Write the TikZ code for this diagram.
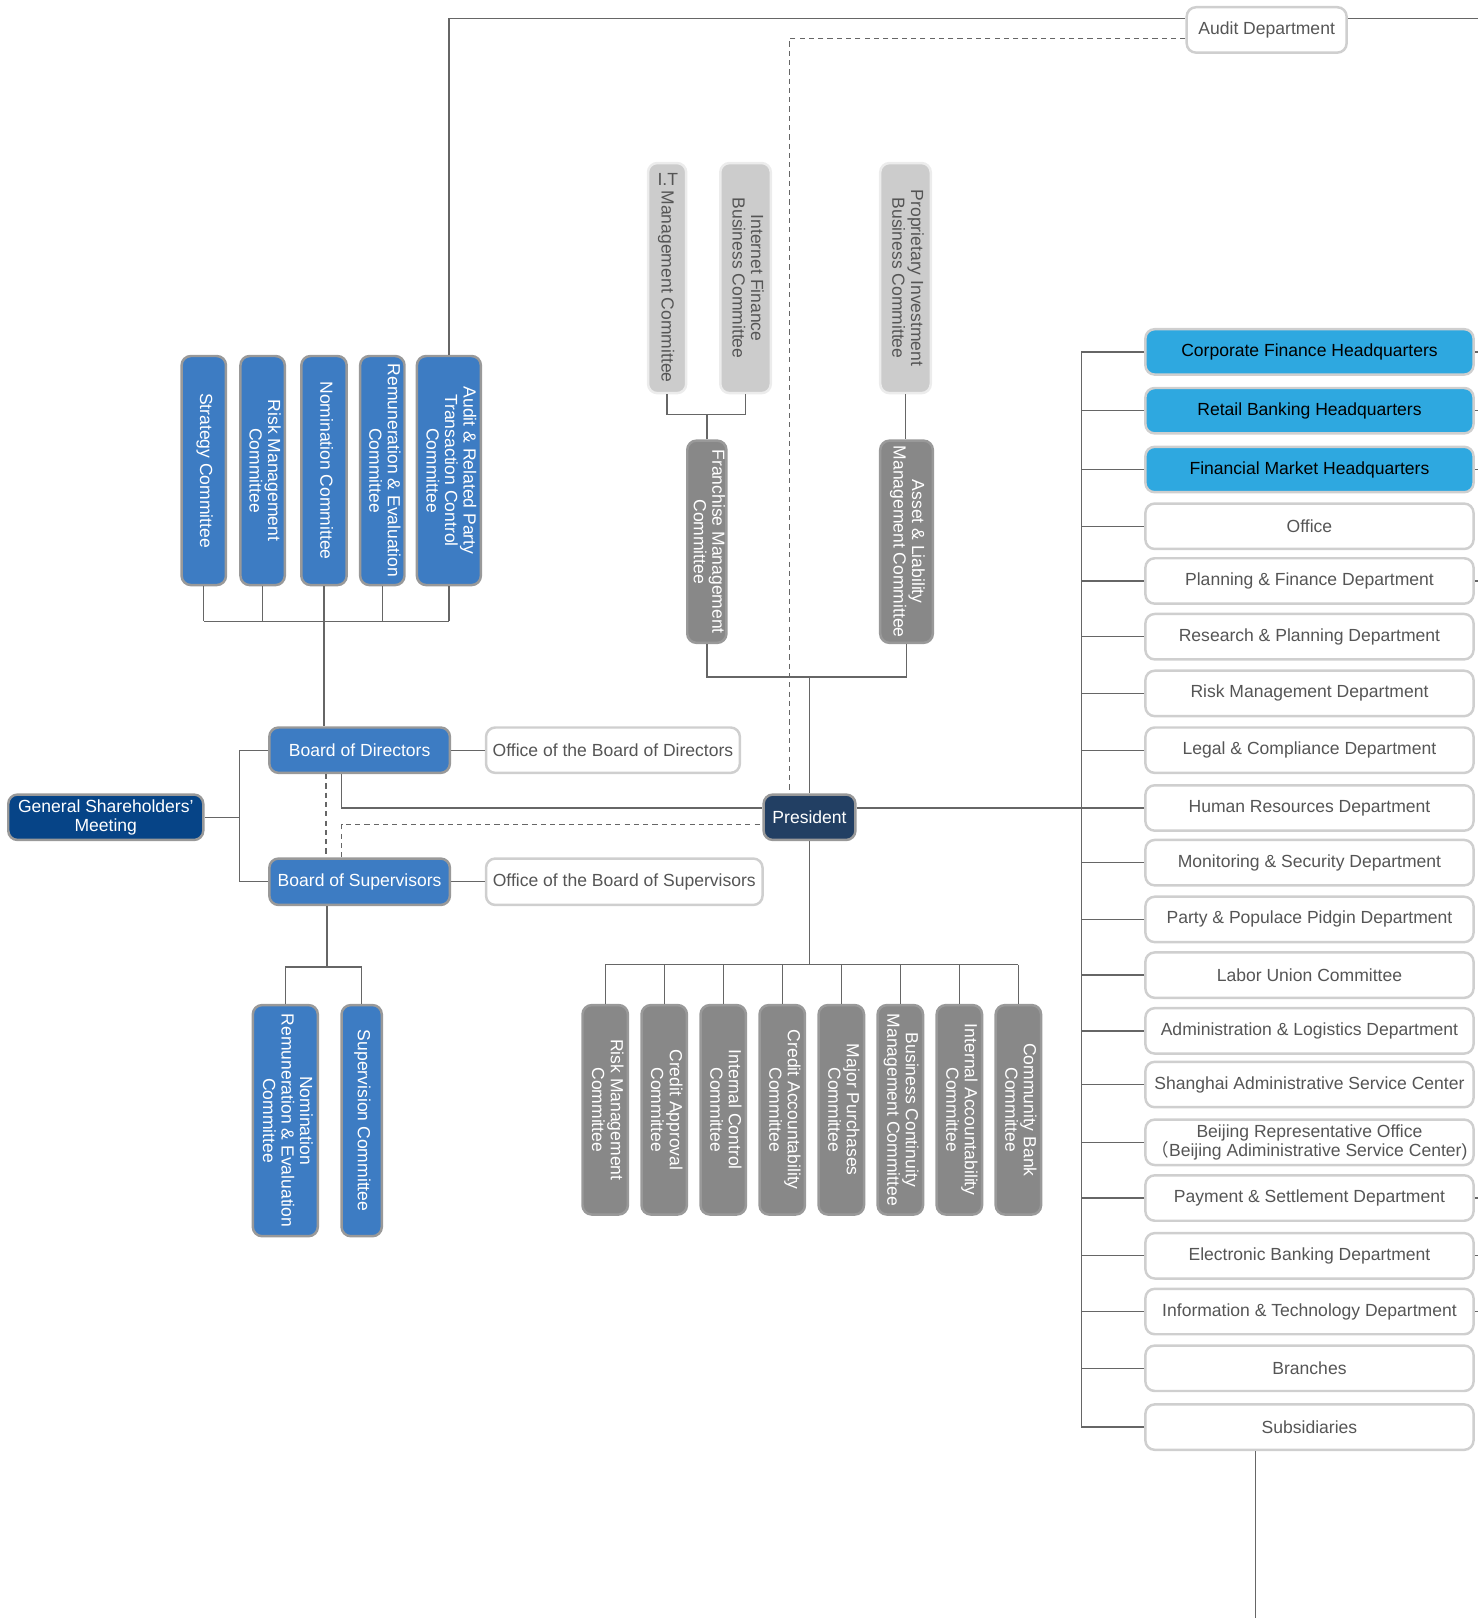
\documentclass[tikz,border=0pt]{standalone}
\usepackage{fontspec}
\setmainfont{Liberation Sans}
\newfontfamily\cjk{Noto Sans CJK SC}
\usetikzlibrary{calc}
\usetikzlibrary{positioning}

\definecolor{boardblue}{HTML}{3D7CC3}
\definecolor{gsmblue}{HTML}{064487}
\definecolor{presblue}{HTML}{223F63}
\definecolor{hqblue}{HTML}{2EA8E0}
\definecolor{palegray}{HTML}{CCCCCC}
\definecolor{cmtgray}{HTML}{888888}
\definecolor{linegray}{HTML}{666666}
\definecolor{textgray}{HTML}{555555}
\definecolor{edgegray}{HTML}{999999}
\definecolor{paleedge}{HTML}{CFCFCF}

\newcommand{\vtext}[1]{\rotatebox{-90}{\begin{tabular}{@{}c@{}}#1\end{tabular}}}

\tikzset{
  orgbox/.style={rounded corners=9pt, line width=2.4pt, inner sep=0pt, align=center,
    font=\fontsize{17}{18}\selectfont},
  boardbox/.style={orgbox, fill=boardblue, draw=edgegray, text=white},
  gsmbox/.style={orgbox, fill=gsmblue, draw=edgegray, text=white},
  presbox/.style={orgbox, fill=presblue, draw=edgegray, text=white},
  hqbox/.style={orgbox, fill=hqblue, draw=paleedge, text=black},
  whitebox/.style={orgbox, fill=white, draw=paleedge, text=textgray},
  vboard/.style={boardbox, minimum height=222},
  vsup/.style={boardbox, minimum height=224},
  vpale/.style={orgbox, fill=palegray, draw=paleedge!40, text=textgray, minimum height=223},
  vdark/.style={orgbox, fill=cmtgray, draw=edgegray, text=white},
  conn/.style={draw=linegray, line width=1.3pt},
  dashline/.style={conn, dash pattern=on 5pt off 4pt},
}

\begin{document}
\begin{tikzpicture}[x=1pt,y=-1pt]
  \useasboundingbox (0,0) rectangle (1432,1568);

  % shareholders, boards, president
  \node[gsmbox, minimum width=189, minimum height=44] (gsm) at (102.5,792) {General Shareholders’\\Meeting};
  \node[boardbox, minimum width=175, minimum height=44] (bod) at (348.5,727) {Board of Directors};
  \node[boardbox, minimum width=175, minimum height=45] (bos) at (348.5,854.5) {Board of Supervisors};
  \node[whitebox, minimum width=246, minimum height=44] (obod) at (594,727) {Office of the Board of Directors};
  \node[whitebox, minimum width=268, minimum height=45] (obos) at (605,854.5) {Office of the Board of Supervisors};
  \node[presbox, minimum width=89, minimum height=44] (pres) at (784.5,792) {President};
  \node[whitebox, minimum width=155, minimum height=44] (audit) at (1227.5,29) {Audit Department};

  % board committees
  \node[vboard, minimum width=43] (strat) at (197.5,456) {\vtext{Strategy Committee}};
  \node[vboard, minimum width=43] (riskc) at (254.5,456) {\vtext{Risk Management\\Committee}};
  \node[vboard, minimum width=44] (nomc) at (314,456) {\vtext{Nomination Committee}};
  \node[vboard, minimum width=43] (remc) at (370.5,456) {\vtext{Remuneration \& Evaluation\\Committee}};
  \node[vboard, minimum width=62] (auditc) at (435,456) {\vtext{Audit \& Related Party\\Transaction Control\\Committee}};

  % supervisory committees
  \node[vsup, minimum width=63] (snre) at (276.5,1086) {\vtext{Nomination\\Remuneration \& Evaluation\\Committee}};
  \node[vsup, minimum width=39] (supc) at (350.5,1086) {\vtext{Supervision Committee}};

  % committees above the president
  \node[vpale, minimum width=37] (itc) at (646.5,269.5) {\vtext{\raisebox{-4pt}{\rotatebox{90}{I.T}} Management Committee}};
  \node[vpale, minimum width=49] (ifc) at (722.5,269.5) {\vtext{Internet Finance\\Business Committee}};
  \node[vpale, minimum width=49] (pic) at (877.5,269.5) {\vtext{Proprietary Investment\\Business Committee}};
  \node[vdark, minimum width=38, minimum height=196] (frc) at (685,525) {\vtext{Franchise Management\\Committee}};
  \node[vdark, minimum width=51, minimum height=196] (alc) at (878.5,525) {\vtext{Asset \& Liability\\Management Committee}};

  % committees below the president
  \foreach \txt [count=\i from 0] in {{Risk Management\\Committee},{Credit Approval\\Committee},
      {Internal Control\\Committee},{Credit Accountability\\Committee},{Major Purchases\\Committee},
      {Business Continuity\\Management Committee},{Internal Accountability\\Committee},
      {Community Bank\\Committee}}
    \node[vdark, minimum width=44, minimum height=203] (pc\i) at (586.5+57.2*\i,1075.5) {\vtext{\txt}};

  % departments
  \foreach \txt/\sty/\yy [count=\i from 0] in {Corporate Finance Headquarters/hqbox/341,
      Retail Banking Headquarters/hqbox/398, Financial Market Headquarters/hqbox/455, Office/whitebox/510,
      Planning \& Finance Department/whitebox/563, Research \& Planning Department/whitebox/617,
      Risk Management Department/whitebox/672, Legal \& Compliance Department/whitebox/727,
      Human Resources Department/whitebox/783, Monitoring \& Security Department/whitebox/836,
      Party \& Populace Pidgin Department/whitebox/891, Labor Union Committee/whitebox/945,
      Administration \& Logistics Department/whitebox/999, Shanghai Administrative Service Center/whitebox/1051,
      {Beijing Representative Office\\{\cjk （}Beijing Adiministrative Service Center)}/whitebox/1107,
      Payment \& Settlement Department/whitebox/1161, Electronic Banking Department/whitebox/1217,
      Information \& Technology Department/whitebox/1271, Branches/whitebox/1326, Subsidiaries/whitebox/1383}
    \node[\sty, minimum width=318, minimum height=44] (dep\i) at (1269,\yy) {\txt};

  % audit lines
  \draw[conn] (auditc.north) |- ([yshift=11pt]audit.west);
  \draw[conn] ([yshift=11pt]audit.east) -- ++(140,0);
  \draw[dashline] ([yshift=-8pt]audit.west) -| ([xshift=-19.5pt]pres.north);

  % board committees
  \coordinate (bdbus) at (0,602);
  \foreach \n in {strat,riskc,nomc,remc,auditc}
    \draw[conn] (\n.south) -- (\n.south |- bdbus);
  \draw[conn] (strat.south |- bdbus) -- (auditc.south |- bdbus);
  \draw[conn] (nomc.south |- bdbus) -- (nomc.south |- bod.north);

  % shareholders to boards
  \coordinate (gsmj) at (232,792);
  \draw[conn] (gsm.east) -- (gsmj);
  \draw[conn] (bod.west) -| (gsmj) |- (bos.west);
  \draw[conn] (bod.east) -- (obod.west);
  \draw[conn] (bos.east) -- (obos.west);

  % board to president to departments
  \coordinate (rbus) at (1048,0);
  \draw[conn] ([xshift=-17.5pt]bod.south) |- ([yshift=9pt]pres.west);
  \draw[conn] ([yshift=9pt]pres.east) -- ([yshift=9pt]pres.east -| rbus);
  \draw[dashline] ([xshift=-32.5pt]bod.south) -- ([xshift=-32.5pt]bos.north);
  \draw[dashline] ([xshift=-17.5pt]bos.north) |- ([yshift=-7pt]pres.west);

  % supervisory committees
  \coordinate (sbus) at (0,937);
  \draw[conn] ([xshift=-31.5pt]bos.south) -- ([xshift=-31.5pt]bos.south |- sbus);
  \draw[conn] (snre.north) |- (sbus -| supc.north) -- (supc.north);

  % above the president
  \coordinate (itbus) at (0,402);
  \draw[conn] (itc.south) |- (itbus -| ifc.south) -- (ifc.south);
  \draw[conn] (frc.north) -- (frc.north |- itbus);
  \draw[conn] (pic.south) -- (pic.south |- alc.north);
  \coordinate (mbus) at (0,656);
  \draw[conn] (frc.south) |- (mbus -| alc.south) -- (alc.south);
  \draw[conn] (pres.north) -- (pres.north |- mbus);

  % below the president
  \coordinate (pbus) at (0,935);
  \draw[conn] (pres.south) -- (pres.south |- pbus);
  \draw[conn] (pc0.north |- pbus) -- (pc7.north |- pbus);
  \foreach \i in {0,...,7}
    \draw[conn] (pc\i.north) -- (pc\i.north |- pbus);

  % departments
  \foreach \i in {0,...,19}
    \draw[conn] (dep\i.west) -- (dep\i.west -| rbus);
  \draw[conn] (dep0.west -| rbus) -- (dep19.west -| rbus);
  \foreach \i in {0,1,2,4,15,16,17}
    \draw[conn] (dep\i.east) -- ++(8,0);
  \draw[conn] ([xshift=-52pt]dep19.south) -- ++(0,180);
\end{tikzpicture}
\end{document}
